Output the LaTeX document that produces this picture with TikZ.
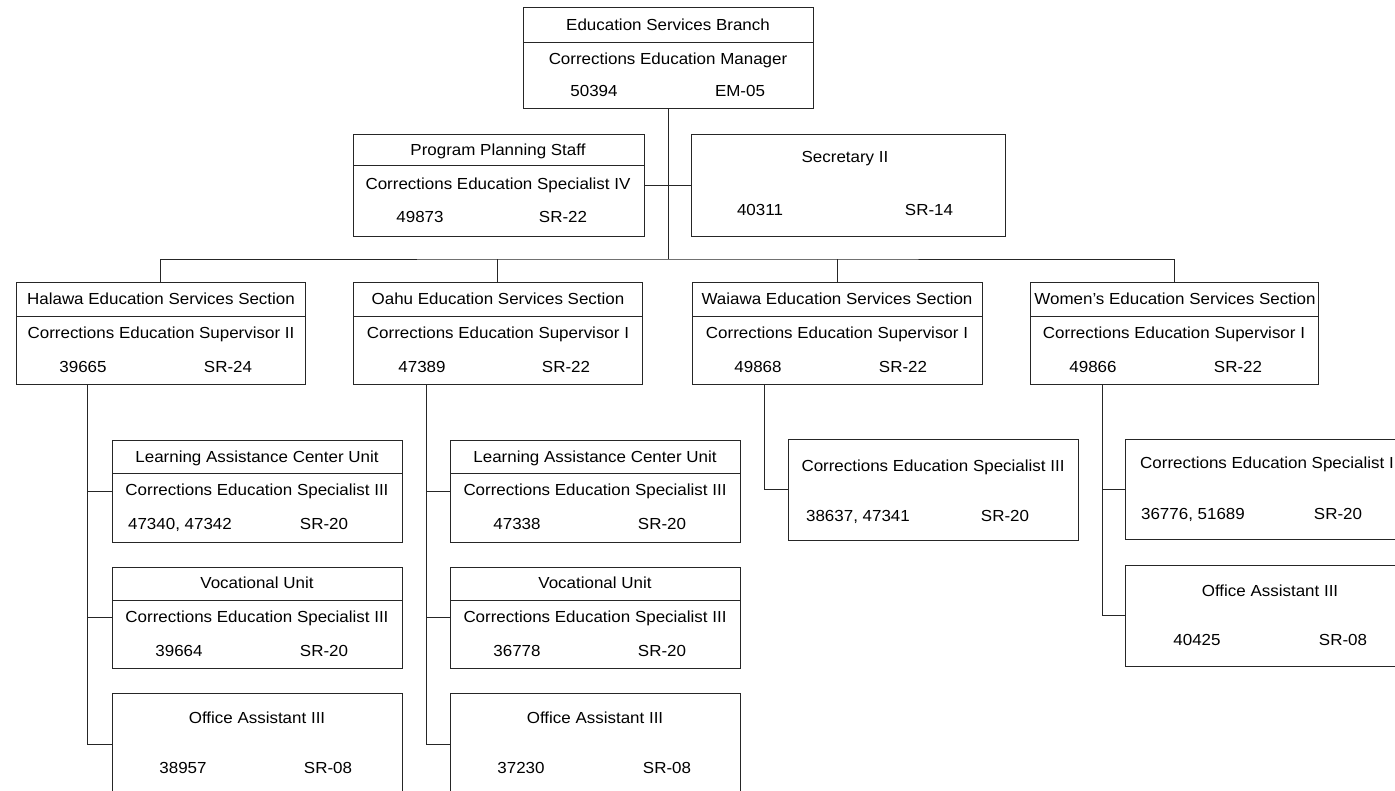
\documentclass[tikz,border=0pt]{standalone}
\usepackage{fontspec}
\setmainfont{Liberation Sans}[FakeStretch=1.06]
\usetikzlibrary{fit}
\begin{document}
\begin{tikzpicture}[x=1pt,y=-1pt,
  box/.style={draw=black!85, line width=0.9pt, inner sep=0pt, outer sep=0pt},
  txt/.style={inner sep=0pt, anchor=base, font=\fontsize{16}{19}\selectfont},
  txtw/.style={txt, anchor=base west},
  link/.style={draw=black!85, line width=0.9pt},
  divider/.style={draw=black!85, line width=0.9pt}]
\useasboundingbox[fill=white] (0,0) rectangle (1395,790);

% ---------- boxes ----------
\node[box, fit={(523,7) (813,108)}] (branch) {};
\node[box, fit={(353,134) (644,236)}] (prog) {};
\node[box, fit={(691,134) (1005,236)}] (sec) {};
\node[box, fit={(16,282) (305,384)}] (halawa) {};
\node[box, fit={(353,282) (642,384)}] (oahu) {};
\node[box, fit={(692,282) (982,384)}] (waiawa) {};
\node[box, fit={(1030,282) (1318,384)}] (women) {};
\node[box, fit={(112,440) (402,542)}] (lacH) {};
\node[box, fit={(112,567) (402,668)}] (vocH) {};
\node[box, fit={(112,693) (402,795)}] (oaH) {};
\node[box, fit={(450,440) (740,542)}] (lacO) {};
\node[box, fit={(450,567) (740,668)}] (vocO) {};
\node[box, fit={(450,693) (740,795)}] (oaO) {};
\node[box, fit={(788,439) (1078,540)}] (cesW) {};
\node[box, fit={(1125,439) (1415,539)}] (cesF) {};
\node[box, fit={(1125,565) (1415,666)}] (oaF) {};

% ---------- dividers ----------
\draw[divider] (523,42) -- (813,42);
\draw[divider] (353,165) -- (644,165);
\draw[divider] (16,316) -- (305,316);
\draw[divider] (353,316) -- (642,316);
\draw[divider] (692,316) -- (982,316);
\draw[divider] (1030,316) -- (1318,316);
\draw[divider] (112,473) -- (402,473);
\draw[divider] (112,600) -- (402,600);
\draw[divider] (450,473) -- (740,473);
\draw[divider] (450,600) -- (740,600);

% ---------- connectors ----------
\coordinate (bar) at (668,259);
\draw[link] (branch.south) -- (bar);
\draw[link] (prog.east) -- (sec.west);
\draw[link] (halawa.north) |- (bar) -| (women.north);
\draw[link] (oahu.north) -- (oahu.north |- bar);
\draw[link] (waiawa.north) -- (waiawa.north |- bar);

\coordinate (vH) at (87,384);
\draw[link] (vH) |- (oaH.west);
\draw[link] (lacH.west) -- (lacH.west -| vH);
\draw[link] (vocH.west) -- (vocH.west -| vH);

\coordinate (vO) at (426,384);
\draw[link] (vO) |- (oaO.west);
\draw[link] (lacO.west) -- (lacO.west -| vO);
\draw[link] (vocO.west) -- (vocO.west -| vO);

\coordinate (vW) at (764,384);
\draw[link] (vW) |- (cesW.west);

\coordinate (vF) at (1102,384);
\draw[link] (vF) |- (oaF.west);
\draw[link] (cesF.west) -- (cesF.west -| vF);

% ---------- texts ----------
\node[txt] (t1) at (668,30.5) {Education Services Branch};
\node[txt] (t2) at (668,64.5) {Corrections Education Manager};
\node[txt] (t3) at (594,96.5) {50394};
\node[txt] (t4) at (740,96.5) {EM-05};

\node[txt] (t5) at (498,155.5) {Program Planning Staff};
\node[txt] (t6) at (498,189.5) {Corrections Education Specialist IV};
\node[txt] (t7) at (420,222.5) {49873};
\node[txt] (t8) at (563,222.5) {SR-22};

\node[txt] (t9) at (845,162.5) {Secretary II};
\node[txt] (t10) at (760,215.5) {40311};
\node[txt] (t11) at (929,215.5) {SR-14};

\node[txt] (t12) at (161,304.5) {Halawa Education Services Section};
\node[txt] (t13) at (161,338.5) {Corrections Education Supervisor II};
\node[txt] (t14) at (83,372.5) {39665};
\node[txt] (t15) at (228,372.5) {SR-24};

\node[txt] (t16) at (498,304.5) {Oahu Education Services Section};
\node[txt] (t17) at (498,338.5) {Corrections Education Supervisor I};
\node[txt] (t18) at (422,372.5) {47389};
\node[txt] (t19) at (566,372.5) {SR-22};

\node[txt] (t20) at (837,304.5) {Waiawa Education Services Section};
\node[txt] (t21) at (837,338.5) {Corrections Education Supervisor I};
\node[txt] (t22) at (758,372.5) {49868};
\node[txt] (t23) at (903,372.5) {SR-22};

\node[txt] (t24) at (1175,304.5) {Women\char"0027 s Education Services Section};
\node[txt] (t25) at (1174,338.5) {Corrections Education Supervisor I};
\node[txt] (t26) at (1093,372.5) {49866};
\node[txt] (t27) at (1238,372.5) {SR-22};

\node[txt] (t28) at (257,462.5) {Learning Assistance Center Unit};
\node[txt] (t29) at (257,495.5) {Corrections Education Specialist III};
\node[txt] (t30) at (180,529.5) {47340, 47342};
\node[txt] (t31) at (324,529.5) {SR-20};

\node[txt] (t32) at (257,588.5) {Vocational Unit};
\node[txt] (t33) at (257,622.5) {Corrections Education Specialist III};
\node[txt] (t34) at (179,656.5) {39664};
\node[txt] (t35) at (324,656.5) {SR-20};

\node[txt] (t36) at (257,723.5) {Office Assistant III};
\node[txt] (t37) at (183,773.5) {38957};
\node[txt] (t38) at (328,773.5) {SR-08};

\node[txt] (t39) at (595,462.5) {Learning Assistance Center Unit};
\node[txt] (t40) at (595,495.5) {Corrections Education Specialist III};
\node[txt] (t41) at (517,529.5) {47338};
\node[txt] (t42) at (662,529.5) {SR-20};

\node[txt] (t43) at (595,588.5) {Vocational Unit};
\node[txt] (t44) at (595,622.5) {Corrections Education Specialist III};
\node[txt] (t45) at (517,656.5) {36778};
\node[txt] (t46) at (662,656.5) {SR-20};

\node[txt] (t47) at (595,723.5) {Office Assistant III};
\node[txt] (t48) at (521,773.5) {37230};
\node[txt] (t49) at (667,773.5) {SR-08};

\node[txt] (t50) at (933,471.5) {Corrections Education Specialist III};
\node[txt] (t51) at (858,521.5) {38637, 47341};
\node[txt] (t52) at (1005,521.5) {SR-20};

\node[txtw] (t53) at (1140,468.5) {Corrections Education Specialist I};
\node[txt] (t54) at (1193,519.5) {36776, 51689};
\node[txt] (t55) at (1338,519.5) {SR-20};

\node[txt] (t56) at (1270,596.5) {Office Assistant III};
\node[txt] (t57) at (1197,645.5) {40425};
\node[txt] (t58) at (1343,645.5) {SR-08};
\end{tikzpicture}
\end{document}
